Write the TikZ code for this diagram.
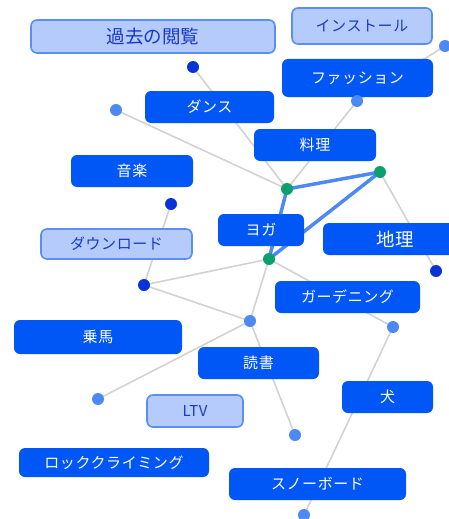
\documentclass[tikz,border=0pt]{standalone}
\usepackage{fontspec}
\setmainfont{Noto Sans CJK JP}
\newfontfamily\jp[LetterSpace=4]{Noto Sans CJK JP}
\usetikzlibrary{positioning}
\definecolor{boxblue}{HTML}{0057F5}
\definecolor{paleblue}{HTML}{B4CBFB}
\definecolor{rimblue}{HTML}{5A8EF2}
\definecolor{inkblue}{HTML}{1A38C8}
\definecolor{deepdot}{HTML}{0A33D6}
\definecolor{softdot}{HTML}{4D89F2}
\definecolor{hubgreen}{HTML}{0E9F6E}
\definecolor{wire}{HTML}{D2D2D2}
\pgfdeclarelayer{wires}
\pgfsetlayers{wires,main}

\begin{document}
\begin{tikzpicture}[x=1pt, y=-1pt]
\clip (0,0) rectangle (449,519);
\tikzstyle{dbox}=[fill=boxblue, text=white, rounded corners=6pt, inner sep=0pt,
  minimum height=32pt, font=\jp\fontsize{15}{17}\selectfont]
\tikzstyle{lbox}=[dbox, fill=paleblue, draw=rimblue, line width=1.6pt, text=inkblue]
\tikzstyle{bigtext}=[font=\fontsize{18.5}{20}\selectfont]
\tikzstyle{pin}=[circle, inner sep=0pt, minimum size=12pt]
\tikzstyle{deep}=[pin, fill=deepdot]
\tikzstyle{soft}=[pin, fill=softdot]
\tikzstyle{hub}=[pin, fill=hubgreen]
% labels
\node[lbox, bigtext, minimum width=244pt, minimum height=33pt] (kako) at (153,36.5) {過去の閲覧};
\node[lbox, minimum width=140pt, minimum height=36pt] (install) at (362,26) {インストール};
\node[dbox, minimum width=151pt, minimum height=38pt] (fashion) at (357.5,78) {ファッション};
\node[dbox, minimum width=129pt] (dance) at (209.5,107) {ダンス};
\node[dbox, minimum width=122pt] (cooking) at (315,145) {料理};
\node[dbox, minimum width=122pt] (music) at (132,171) {音楽};
\node[dbox, minimum width=86pt] (yoga) at (261,230) {ヨガ};
\node[dbox, bigtext, minimum width=144pt] (geo) at (395,239) {地理};
\node[lbox, minimum width=151pt, minimum height=30pt] (download) at (116.5,244) {ダウンロード};
\node[dbox, minimum width=145pt] (garden) at (347.5,297) {ガーデニング};
\node[dbox, minimum width=168pt, minimum height=34pt] (horse) at (98,337) {乗馬};
\node[dbox, minimum width=121pt] (reading) at (258.5,363) {読書};
\node[dbox, minimum width=91pt] (dog) at (387.5,397) {犬};
\node[lbox, minimum width=96pt] (ltv) at (195,411) {LTV};
\node[dbox, minimum width=190pt, minimum height=29pt] (climb) at (114,462.5) {ロッククライミング};
\node[dbox, minimum width=177pt] (snow) at (317.5,484) {スノーボード};
% points
\node[deep] (p1) at (193,67) {};
\node[soft] (p2) at (116,110) {};
\node[soft] (p3) at (445,46) {};
\node[soft] (p4) at (357,101) {};
\node[hub] (h1) at (287,189) {};
\node[hub] (h2) at (380,172) {};
\node[hub] (h3) at (269,259) {};
\node[deep] (p5) at (171,204) {};
\node[deep] (p6) at (144,285) {};
\node[deep] (p7) at (436,271) {};
\node[soft] (p8) at (250,321) {};
\node[soft] (p9) at (393,327) {};
\node[soft] (p10) at (98,399) {};
\node[soft] (p11) at (295,435) {};
\node[soft] (p12) at (304,515) {};
\begin{pgfonlayer}{wires}
\tikzstyle{thin}=[wire, line width=1.6pt]
\draw[thin] (p1.center) -- (h1.center);
\draw[thin] (p2.center) -- (h1.center);
\draw[thin] (p3.center) -- (p4.center);
\draw[thin] (p4.center) -- (h1.center);
\draw[thin] (h2.center) -- (p7.center);
\draw[thin] (p5.center) -- (p6.center);
\draw[thin] (p6.center) -- (h3.center);
\draw[thin] (p6.center) -- (p8.center);
\draw[thin] (h3.center) -- (p8.center);
\draw[thin] (h3.center) -- (p9.center);
\draw[thin] (p8.center) -- (p10.center);
\draw[thin] (p8.center) -- (p11.center);
\draw[thin] (p9.center) -- (p12.center);
\tikzstyle{thick}=[softdot, line width=3.5pt]
\draw[thick] (h1.center) -- (h2.center);
\draw[thick] (h1.center) -- (h3.center);
\draw[thick] (h2.center) -- (h3.center);
\end{pgfonlayer}
\end{tikzpicture}
\end{document}
